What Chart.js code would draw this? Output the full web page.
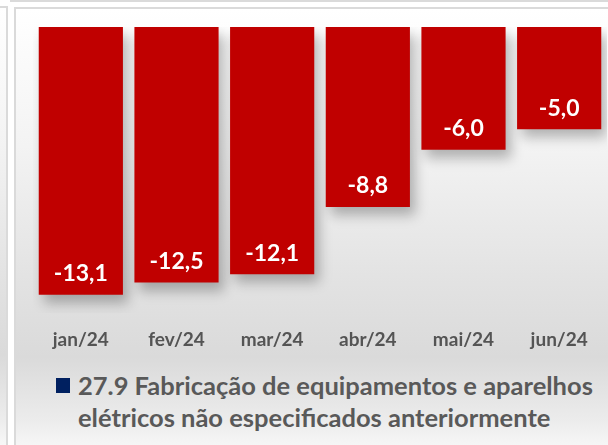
<!DOCTYPE html>
<html>
<head>
<meta charset="utf-8">
<script src="https://cdn.jsdelivr.net/npm/chart.js@4/dist/chart.umd.min.js"></script>
<style>
  html, body { margin: 0; padding: 0; background: #fff; }
  #wrap { position: relative; width: 608px; height: 445px; overflow: hidden; background: #fff; }
  .box { position: absolute; box-sizing: border-box; border: 2px solid #dadada; }
  .grad { background: linear-gradient(to bottom, #ffffff 0%, #f3f3f3 30%, #e2e2e2 60%, #dadada 76%, #ececec 90%, #ffffff 100%); }
  #chart { position: absolute; left: 0; top: 0; }
  #legend { position: absolute; left: 56px; top: 369px; font-family: Lato, sans-serif; font-weight: bold; font-size: 25.5px; line-height: 32px; color: #595959; }
  #legend .sw { position: absolute; left: 0; top: 9px; width: 14px; height: 15px; background: #002060; }
  #legend .txt { display: block; margin-left: 22px; width: 530px; }
</style>
</head>
<body>
<div id="wrap">
  <div class="box" style="left:10px;top:-20px;width:620px;height:22px;"></div>
  <div class="box grad" style="left:-10px;top:6px;width:18px;height:460px;"></div>
  <div class="box grad" style="left:14px;top:7px;width:620px;height:460px;border-right:none;border-bottom:none;"></div>
  <canvas id="chart" width="608" height="366"></canvas>
  <div id="legend"><span class="sw"></span><span class="txt" id="legendText"></span></div>
</div>
<script>
const meses = ["jan/24", "fev/24", "mar/24", "abr/24", "mai/24", "jun/24"];
const valores = [-13.1, -12.5, -12.1, -8.8, -6.0, -5.0];
const serieNome = "27.9 Fabricação de equipamentos e aparelhos elétricos não especificados anteriormente";

document.getElementById("legendText").innerText = serieNome;

// sombra nas barras + rotulos dentro da ponta
const barrasPlugin = {
    id: "barras",
    beforeDatasetsDraw(chart) {
        const ctx = chart.ctx;
        ctx.save();
        ctx.shadowColor = "rgba(0,0,0,0.28)";
        ctx.shadowBlur = 12;
        ctx.shadowOffsetX = 5;
        ctx.shadowOffsetY = 8;
    },
    afterDatasetsDraw(chart) {
        const ctx = chart.ctx;
        ctx.restore();
        const meta = chart.getDatasetMeta(0);
        ctx.save();
        ctx.fillStyle = "#ffffff";
        ctx.font = "bold 23px Lato";
        ctx.textAlign = "center";
        ctx.textBaseline = "middle";
        meta.data.forEach((bar, i) => {
            const txt = valores[i].toFixed(1).replace(".", ",");
            ctx.fillText(txt, bar.x, bar.y - 21);
        });
        ctx.restore();
    },
};

new Chart(document.getElementById("chart").getContext("2d"), {
    type: "bar",
    data: {
        labels: meses,
        datasets: [
            {
                label: serieNome,
                data: valores,
                backgroundColor: "#c00000",
                borderWidth: 0,
                barPercentage: 0.88,
                categoryPercentage: 1,
            },
        ],
    },
    options: {
        responsive: false,
        animation: false,
        layout: {
            padding: { left: 33, right: 1, top: 27, bottom: 0 },
        },
        plugins: {
            legend: { display: false },
            tooltip: { enabled: false },
        },
        scales: {
            x: {
                grid: { display: false, drawTicks: false },
                border: { display: false },
                ticks: {
                    color: "#545454",
                    padding: 15,
                    font: { family: "Lato", weight: "bold", size: 19 },
                },
            },
            y: {
                display: false,
                min: -14,
                max: 0,
            },
        },
    },
    plugins: [barrasPlugin],
});
</script>
</body>
</html>
